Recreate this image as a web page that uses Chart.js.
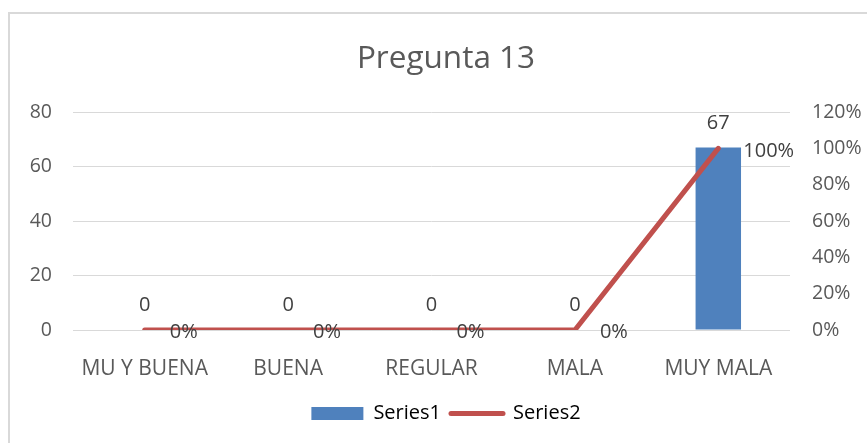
<!DOCTYPE html>
<html>
<head>
<meta charset="utf-8">
<script src="https://cdn.jsdelivr.net/npm/chart.js@4"></script>
<style>
  html, body { margin: 0; padding: 0; background: #fff; }
  #wrap { width: 867px; height: 443px; }
</style>
</head>
<body>
<div id="wrap"><canvas id="chart"></canvas></div>
<script>
// --- data ---
const categories = ['MU Y BUENA', 'BUENA', 'REGULAR', 'MALA', 'MUY MALA'];
const series1 = [0, 0, 0, 0, 67];
const series2 = [0, 0, 0, 0, 1];   // 0..1 -> shown as %
const leftTicks = [0, 20, 40, 60, 80];
const rightTicks = [0, 0.2, 0.4, 0.6, 0.8, 1.0, 1.2];

const TXT = '#595959';
const LBL = '#404040';
const GRID = '#d9d9d9';
const BLUE = '#4f81bd';
const RED = '#c0504d';

Chart.defaults.font.family = "'Open Sans', 'Noto Sans', sans-serif";
Chart.defaults.color = TXT;

const pct = v => Math.round(v * 100) + '%';

// outer frame like the office chart box
const framePlugin = {
    id: 'frame',
    beforeDraw(chart) {
        const c = chart.ctx;
        c.save();
        c.fillStyle = '#fff';
        c.fillRect(0, 0, chart.width, chart.height);
        c.strokeStyle = GRID;
        c.lineWidth = 2;
        c.strokeRect(9, 13, 900, 500);
        c.restore();
    }
};

// value labels (no datalabels plugin available offline)
const labelPlugin = {
    id: 'valueLabels',
    afterDatasetsDraw(chart) {
        const c = chart.ctx;
        c.save();
        c.font = "20px 'Open Sans', 'Noto Sans', sans-serif";
        c.fillStyle = LBL;
        c.textBaseline = 'middle';

        const bars = chart.getDatasetMeta(0).data;
        c.textAlign = 'center';
        bars.forEach((el, i) => {
            c.fillText(String(series1[i]), el.x, el.y - 24.5);
        });

        const pts = chart.getDatasetMeta(1).data;
        c.textAlign = 'left';
        pts.forEach((el, i) => {
            c.fillText(pct(series2[i]), el.x + 25, el.y + 2.5);
        });
        c.restore();
    }
};

new Chart(document.getElementById('chart'), {
    data: {
        labels: categories,
        datasets: [
            {
                type: 'bar',
                label: 'Series1',
                data: series1,
                backgroundColor: BLUE,
                borderWidth: 0,
                yAxisID: 'y',
                barPercentage: 0.317,
                categoryPercentage: 1,
                order: 2
            },
            {
                type: 'line',
                label: 'Series2',
                data: series2,
                borderColor: RED,
                backgroundColor: RED,
                borderWidth: 5,
                borderCapStyle: 'round',
                borderJoinStyle: 'round',
                pointRadius: 0,
                pointHoverRadius: 0,
                tension: 0,
                yAxisID: 'y1',
                order: 1
            }
        ]
    },
    options: {
        responsive: true,
        maintainAspectRatio: false,
        animation: false,
        events: [],
        layout: { padding: { left: 25, right: 0, top: 40, bottom: 9.5 } },
        plugins: {
            title: {
                display: true,
                text: 'Pregunta 13',
                color: TXT,
                font: { size: 31.5, weight: 'normal', lineHeight: 1.2 },
                padding: { top: 0, bottom: 34.2 }
            },
            legend: {
                position: 'bottom',
                labels: {
                    color: TXT,
                    font: { size: 20 },
                    padding: 10,
                    usePointStyle: true,
                    pointStyleWidth: 52,
                    boxHeight: 13,
                    generateLabels: () => [
                        { text: 'Series1', fillStyle: BLUE, strokeStyle: BLUE, lineWidth: 0, pointStyle: 'rect', datasetIndex: 0 },
                        { text: 'Series2', fillStyle: RED, strokeStyle: RED, lineWidth: 5, lineCap: 'round', pointStyle: 'line', datasetIndex: 1 }
                    ]
                }
            },
            tooltip: { enabled: false }
        },
        scales: {
            x: {
                offset: true,
                grid: { display: false },
                border: { display: false },
                ticks: { color: TXT, font: { size: 21 }, padding: 18.5, maxRotation: 0, autoSkip: false },
                afterFit: s => { s.height = 63.5; }
            },
            y: {
                position: 'left',
                min: 0,
                max: leftTicks[leftTicks.length - 1],
                afterBuildTicks: s => { s.ticks = leftTicks.map(v => ({ value: v })); },
                grid: { color: GRID, lineWidth: 1, drawTicks: false },
                border: { display: false },
                ticks: { color: TXT, font: { size: 19.5 }, padding: 21 },
                afterFit: s => { s.width = 48; }
            },
            y1: {
                position: 'right',
                min: 0,
                max: rightTicks[rightTicks.length - 1],
                afterBuildTicks: s => { s.ticks = rightTicks.map(v => ({ value: v })); },
                grid: { display: false, drawTicks: false },
                border: { display: false },
                ticks: { color: TXT, font: { size: 19.5 }, padding: 22, callback: v => pct(v) },
                afterFit: s => { s.width = 77; }
            }
        }
    },
    plugins: [framePlugin, labelPlugin]
});
</script>
</body>
</html>
